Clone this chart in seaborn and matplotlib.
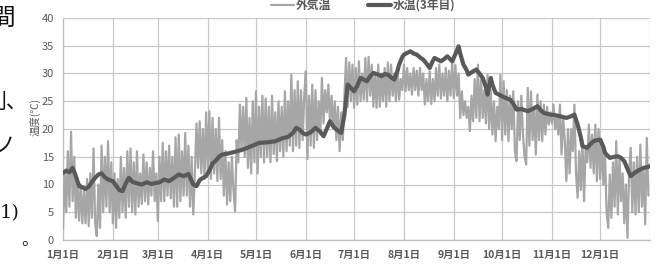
import numpy as np
import pandas as pd
import matplotlib
matplotlib.use("Agg")
import matplotlib.pyplot as plt
import seaborn as sns

# ---------------- data ----------------
month_days = [0, 31, 59, 90, 120, 151, 181, 212, 243, 273, 304, 334]
month_labels = ["1月1日", "2月1日", "3月1日", "4月1日", "5月1日", "6月1日",
                "7月1日", "8月1日", "9月1日", "10月1日", "11月1日", "12月1日"]
y_ticks = [0, 5, 10, 15, 20, 25, 30, 35, 40]

# air temperature (外気温), one reading per day (day 0 .. 364)
air_temp = [
    2, 12, 5, 16, 6, 19.5, 7,
    15, 4, 11, 3.5, 10, 3, 9,
    3, 11, 2.5, 12, 4, 16.5, 3,
    0.7, 10, 2.2, 17, 5, 15, 6,
    17.8, 5, 14, 3, 12, 2.2, 11,
    4, 15, 5, 13, 4, 16, 6,
    16.5, 5, 14, 4.6, 16, 6, 12,
    6.5, 15.4, 7, 14, 6.4, 13, 8,
    16, 7, 12, 3.4, 15, 7, 17.5,
    7, 16, 8, 17, 7.5, 15, 6,
    18.5, 6, 19, 7, 16, 8, 19.3,
    8, 17, 6, 15, 4.6, 12, 21,
    13, 21.4, 12, 20, 11, 23, 12.4,
    23.2, 11, 22, 12, 20, 10.6, 22,
    11, 18, 8, 16, 6.4, 14, 7,
    15, 9, 5.2, 18, 14, 24.4, 16,
    24, 15, 25.6, 13, 22, 12, 25,
    14, 26.8, 12, 24, 15, 26, 14,
    25.5, 15, 24, 14, 26, 15.5, 23,
    14.2, 25, 16, 24, 15, 26.8, 16,
    25, 17, 29.8, 16, 27, 17, 28.6,
    16.6, 27, 18, 26, 30.4, 14.6, 26,
    17, 28, 16.6, 27, 18, 25, 19,
    29.2, 21, 27, 23, 28, 21, 26,
    20, 25, 18, 24, 16, 23, 18,
    26, 32.8, 24, 32, 25, 31.6, 23.8,
    31, 24.4, 32.2, 25, 30, 25.3, 32.8,
    25, 33, 26, 31.6, 24, 30, 23.8,
    31.6, 24, 30, 25, 31, 24, 32,
    25, 31.6, 26, 30, 25, 31, 25.3,
    29, 27, 31.6, 26.8, 31, 27, 30,
    26.2, 31, 27, 30.5, 26, 31, 27,
    30, 24.4, 29, 25, 30.4, 24.5, 29,
    25, 31, 26, 31.6, 25.5, 30, 26,
    31, 25, 30.5, 26, 32.2, 25.6, 31.5,
    26, 30, 22, 26.8, 22.5, 25, 22,
    24, 19.6, 26, 21.4, 29, 22, 31.6,
    21.4, 29, 22, 27, 21, 29.8, 20,
    27, 19, 25, 17.8, 24, 20, 29.8,
    18, 28.6, 19, 27, 17.8, 26, 20,
    26.8, 16, 14.2, 25, 18, 26, 19,
    15, 13.6, 27.4, 17, 26.8, 18, 24,
    15.4, 26.2, 18, 25, 17.8, 24.4, 19,
    24, 20.8, 23, 21, 24.4, 20, 22,
    19, 24.4, 15.4, 22, 18, 10.6, 20,
    12, 20, 16, 24.4, 12, 7.6, 16,
    9, 18, 7, 17, 14, 20.8, 13,
    19, 12, 20.8, 10.6, 20, 11, 18,
    10, 16, 5, 2.2, 11.8, 4, 14,
    6, 17.8, 4.6, 15, 7, 12, 3,
    10, 0.4, 12, 16.6, 5, 14, 4.6,
    15, 5, 17.2, 6, 13, 2.8, 18.4,
    8,
]
air_days = list(range(len(air_temp)))

# water temperature (水温(3年目)), read at these days
water_days = [
    0, 2, 4, 6, 8, 10, 12, 14, 16, 18, 20, 22, 24, 26, 28, 31, 33, 35, 37, 39,
    41, 43, 46, 49, 52, 55, 58, 60, 63, 66, 69, 72, 75, 78, 81, 83, 85, 87, 89,
    91, 93, 95, 97, 99, 103, 107, 112, 117, 122, 127, 132, 136, 140, 143, 145,
    147, 149, 151, 154, 157, 160, 162, 164, 166, 168, 170, 173, 175, 177, 179,
    181, 183, 185, 187, 189, 191, 193, 196, 198, 200, 202, 204, 206, 208, 209,
    211, 212, 214, 216, 218, 220, 222, 224, 226, 228, 230, 231, 233, 235, 237,
    239, 241, 242, 244, 246, 247, 249, 251, 252, 255, 257, 259, 261, 263, 264,
    266, 267, 269, 271, 273, 276, 278, 280, 282, 285, 289, 292, 295, 297, 299,
    303, 306, 309, 313, 316, 318, 320, 322, 323, 326, 328, 330, 332, 334, 336,
    337, 340, 343, 345, 347, 349, 351, 353, 355, 357, 359, 361, 363, 365,
]
water_temp = [
    12.1, 12.5, 12.2, 13.0, 11.5, 9.7, 9.5, 9.2, 9.6, 10.5, 11.2, 11.8, 12.0, 11.3, 10.9, 10.6, 9.8, 9.0, 8.8, 10.2,
    11.2, 10.5, 10.2, 10.0, 10.4, 10.1, 10.3, 10.4, 10.9, 10.6, 11.2, 11.8, 11.5, 11.9, 10.0, 9.7, 10.8, 11.2, 11.5,
    12.5, 13.8, 14.3, 15.0, 15.4, 15.6, 15.9, 16.3, 16.9, 17.5, 17.6, 17.8, 18.3, 18.6, 19.3, 20.2,
    19.9, 19.3, 19.0, 19.4, 20.2, 19.5, 18.7, 20.0, 21.4, 20.5, 19.9, 19.3, 22.6, 28.0, 27.4,
    26.8, 27.8, 29.2, 28.9, 28.6, 29.5, 30.1, 29.8, 29.5, 29.9, 29.8, 29.3, 28.9, 30.5, 31.6,
    33.0, 33.4, 33.7, 34.0, 33.6, 33.4, 32.9, 32.5, 31.8, 31.0, 32.3, 32.8, 32.5, 32.2, 32.6,
    33.1, 32.5, 32.2, 33.5, 34.9, 33.6, 31.6, 30.6, 29.8, 30.4, 30.7, 30.0, 29.2, 27.5, 26.2,
    29.2, 28.0, 26.5, 26.2, 25.9, 25.5, 25.3, 24.6, 23.5, 23.6, 23.2, 23.6, 24.1, 23.4, 22.9,
    22.6, 22.5, 22.3, 22.0, 22.3, 22.6, 20.8, 18.5, 16.9, 16.6, 17.3, 17.8, 18.0, 18.1, 16.8,
    15.7, 14.8, 15.0, 15.1, 14.8, 14.2, 12.8, 11.5, 12.0, 12.4, 12.7, 13.0, 13.1, 13.3,
]

air_df = pd.DataFrame({"day": air_days, "temp": air_temp})
water_df = pd.DataFrame({"day": water_days, "temp": water_temp})

# ---------------- style ----------------
sns.set_theme(style="white")
plt.rcParams["font.family"] = ["Noto Sans CJK JP", "DejaVu Sans"]

AIR = "#A6A6A6"
WATER = "#595959"
GRID = "#C8C8C8"
TXT = "#595959"

fig = plt.figure(figsize=(6.58, 2.64), dpi=100)
ax = fig.add_axes([63 / 658, 1 - 240 / 264, (650 - 63) / 658, (240 - 18) / 264])

sns.lineplot(data=air_df, x="day", y="temp", ax=ax, color=AIR, lw=1.6,
             label="外気温", zorder=3)
sns.lineplot(data=water_df, x="day", y="temp", ax=ax, color=WATER, lw=3.0,
             label="水温(3年目)", zorder=4)

ax.set_xlim(0, 365)
ax.set_ylim(0, 40)
ax.set_xticks(month_days)
ax.set_xticklabels(month_labels)
ax.set_yticks(y_ticks)
ax.set_xlabel("")
ax.set_ylabel("")

for d in month_days + [365]:
    ax.axvline(d, color=GRID, lw=0.9, zorder=1)
for t in y_ticks:
    ax.axhline(t, color=GRID, lw=0.9, zorder=1)

for s in ["top", "right"]:
    ax.spines[s].set_visible(False)
for s in ["left", "bottom"]:
    ax.spines[s].set_color("#BFBFBF")
    ax.spines[s].set_linewidth(0.9)

ax.tick_params(axis="both", which="both", length=3.5, width=0.8, color="#BFBFBF",
               labelcolor=TXT)
ax.tick_params(axis="x", labelsize=7.5, pad=4)
ax.tick_params(axis="y", labelsize=8, pad=3)
for t in ax.get_xticklabels():
    t.set_fontweight("bold")

ax.get_legend().remove()
h, l = ax.get_legend_handles_labels()
leg = fig.legend(h, l, loc="upper center", bbox_to_anchor=(0.552, 1.045), ncol=2,
                 frameon=False, fontsize=8.5, handlelength=1.9, columnspacing=3.2,
                 handletextpad=0.15)
for t in leg.get_texts():
    t.set_color(TXT)
    t.set_fontweight("bold")

fig.text(35 / 658, 1 - 117 / 264, "温度(℃)", rotation=90, ha="center", va="center",
         fontsize=7.5, color=TXT)

# fragments of the surrounding document text at the left edge
frag_color = "#111111"
fig.text(-8 / 658, 1 - 18 / 264, "間", ha="left", va="center", fontsize=17,
         color=frag_color)
fig.text(-15 / 658, 1 - 102 / 264, "則、", ha="left", va="center", fontsize=15,
         color=frag_color)
fig.text(-6 / 658, 1 - 146 / 264, "ノ", ha="left", va="center", fontsize=15,
         color=frag_color)
fig.text(0 / 658, 1 - 213 / 264, "1)", ha="left", va="center", fontsize=14,
         color=frag_color, family=["DejaVu Serif"])
fig.text(21 / 658, 1 - 240 / 264, "。", ha="left", va="center", fontsize=12,
         color=frag_color)

fig.savefig("out.png", dpi=100)
